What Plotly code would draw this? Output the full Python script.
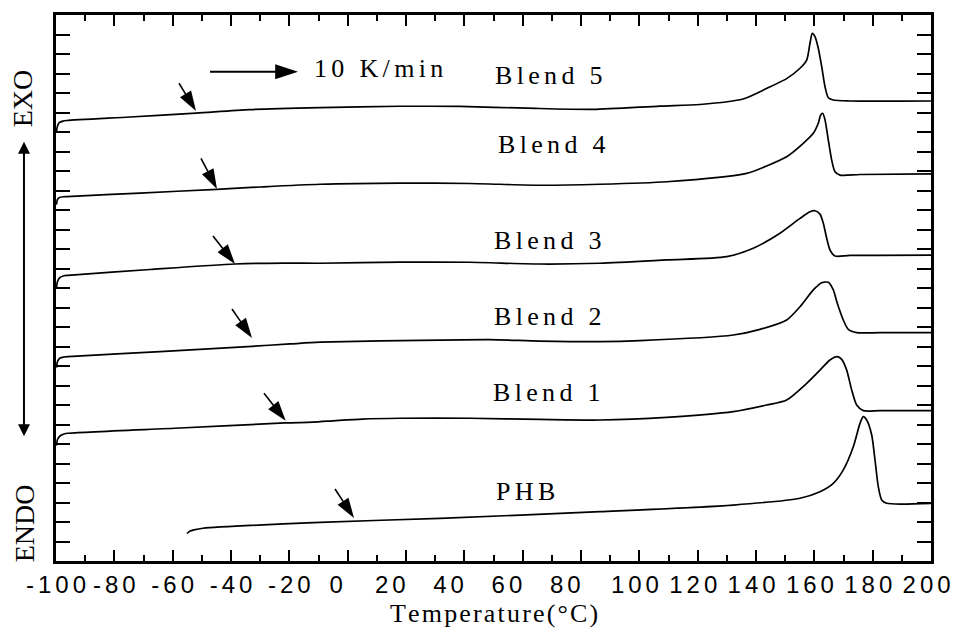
import plotly.graph_objects as go

# ---------------- data ----------------
# Temperature (°C) and heat-flow signal (arbitrary units, one unit = one y tick)
b5_T = [-99.83, -99.49, -98.80, -97.60, -96.23, -74.63, -52.0, -33.49, -9.49, 17.94, 38.51, 61.49, 84.11,
        107.09, 120.80, 135.54, 143.77, 150.63, 155.09, 157.38, 158.51, 159.30, 160.23, 161.36, 162.53,
        163.66, 164.79, 166.50, 172.23, 200.0]
b5_Q = [22.03, 22.31, 22.49, 22.56, 22.59, 22.77, 22.97, 23.15, 23.25, 23.32, 23.31, 23.22, 23.16,
        23.33, 23.41, 23.69, 24.24, 24.75, 25.27, 25.69, 26.55, 27.06, 26.89, 26.29, 25.35,
        24.32, 23.76, 23.64, 23.59, 23.59]

b4_T = [-99.83, -99.49, -98.80, -97.60, -96.23, -71.2, -44.80, -30.06, -9.49, 17.94, 41.94, 65.94, 86.51,
        109.37, 136.80, 143.66, 150.51, 156.21, 159.64, 161.35, 162.18, 162.87, 163.66, 164.79, 165.95,
        167.09, 168.80, 175.66, 200.0]
b4_Q = [18.28, 18.54, 18.64, 18.68, 18.69, 18.87, 19.06, 19.18, 19.32, 19.38, 19.36, 19.27, 19.32,
        19.45, 19.88, 20.26, 20.73, 21.42, 21.93, 22.45, 22.87, 22.96, 22.62, 21.59, 20.56,
        19.96, 19.79, 19.82, 19.85]

b3_T = [-99.83, -99.49, -98.63, -97.26, -95.89, -67.77, -38.63, -22.17, -9.49, 17.94, 41.94, 65.94, 86.51,
        109.37, 129.94, 139.07, 148.23, 155.09, 158.51, 160.23, 161.94, 163.07, 164.24, 165.37,
        167.09, 172.23, 200.0]
b3_Q = [14.03, 14.33, 14.54, 14.63, 14.65, 14.95, 15.23, 15.28, 15.27, 15.33, 15.32, 15.23, 15.27,
        15.44, 15.61, 16.04, 16.81, 17.57, 17.91, 17.96, 17.79, 17.32, 16.55, 15.95,
        15.64, 15.67, 15.69]

b2_T = [-99.83, -99.49, -98.63, -97.26, -95.89, -64.34, -32.80, -19.77, -9.49, 31.66, 48.80, 65.94, 86.51,
        100.23, 132.21, 141.37, 150.53, 155.09, 159.65, 162.53, 164.79, 166.50, 167.87, 169.93,
        171.64, 174.53, 182.51, 200.0]
b2_Q = [9.92, 10.23, 10.41, 10.46, 10.48, 10.74, 11.01, 11.13, 11.22, 11.33, 11.35, 11.28, 11.25,
        11.30, 11.59, 11.88, 12.36, 13.04, 13.90, 14.27, 14.29, 13.90, 13.22, 12.36,
        11.88, 11.71, 11.71, 11.71]

b1_T = [-99.83, -99.49, -98.63, -97.26, -95.89, -57.49, -21.49, -12.0, -4.0, 5.0, 17.94, 41.94, 65.94, 86.51,
        109.37, 132.21, 143.66, 150.51, 157.37, 161.94, 165.37, 167.87, 169.38, 171.09, 172.81,
        174.53, 176.79, 182.51, 200.0]
b1_Q = [5.92, 6.23, 6.41, 6.51, 6.55, 6.82, 7.08, 7.12, 7.20, 7.28, 7.32, 7.32, 7.26, 7.23,
        7.37, 7.66, 8.00, 8.26, 9.11, 9.79, 10.31, 10.48, 10.34, 9.79, 8.77,
        8.00, 7.71, 7.71, 7.71]

phb_T = [-55.09, -54.06, -52.69, -49.60, -9.49, 31.66, 86.51, 132.21, 155.09, 161.94, 166.50, 169.93,
         173.36, 175.66, 176.79, 177.95, 179.67, 180.80, 181.93, 183.10, 184.81, 200.0]
phb_Q = [1.41, 1.54, 1.60, 1.68, 1.98, 2.19, 2.53, 2.87, 3.22, 3.55, 3.98, 4.67,
         5.86, 7.06, 7.40, 7.23, 6.46, 5.18, 3.81, 3.13, 2.96, 2.96]

# curve labels
label_text = ["Blend 5", "Blend 4", "Blend 3", "Blend 2", "Blend 1", "PHB"]
label_T = [69.0, 70.1, 68.7, 68.7, 68.3, 60.8]
label_Q = [24.92, 21.38, 16.46, 12.56, 8.64, 3.59]

# glass-transition arrows: tail and tip (T, Q)
tg_tail_T = [-57.83, -50.29, -46.17, -39.66, -28.69, -4.34]
tg_tail_Q = [24.50, 20.65, 16.67, 12.92, 8.60, 3.69]
tg_tip_T = [-52.0, -44.8, -38.63, -32.8, -21.25, 2.17]
tg_tip_Q = [23.08, 19.08, 15.23, 11.44, 7.19, 2.21]

# heating-rate arrow
rate_T = [-47.2, -17.03]
rate_Q = [25.09, 25.09]
rate_text = "10 K/min"
rate_text_T = 10.7
rate_text_Q = 25.28

x_ticks = list(range(-100, 201, 20))
x_title = "Temperature(°C)"


def spaced(s, gap="\u2006"):
    return gap.join(list(s))


SERIF = "Liberation Serif, Times New Roman, serif"
SANS = "Liberation Sans, Arial, sans-serif"

fig = go.Figure()

for T, Q in [(b5_T, b5_Q), (b4_T, b4_Q), (b3_T, b3_Q), (b2_T, b2_Q), (b1_T, b1_Q), (phb_T, phb_Q)]:
    fig.add_trace(go.Scatter(x=T, y=Q, mode="lines",
                             line=dict(color="black", width=1.7, shape="spline", smoothing=0.7),
                             showlegend=False, hoverinfo="skip"))

for i in range(len(tg_tip_T)):
    fig.add_trace(go.Scatter(x=[tg_tail_T[i], tg_tip_T[i]], y=[tg_tail_Q[i], tg_tip_Q[i]],
                             mode="lines+markers",
                             line=dict(color="#000000", width=1.6),
                             marker=dict(symbol="arrow", size=[0, 21], angleref="previous", color="#000000",
                                         opacity=1, line=dict(width=0, color="#000000")),
                             opacity=1, showlegend=False, hoverinfo="skip"))

fig.add_trace(go.Scatter(x=rate_T, y=rate_Q, mode="lines+markers",
                         line=dict(color="#000000", width=2.2),
                         marker=dict(symbol="arrow", size=[0, 24], angleref="previous", color="#000000",
                                     opacity=1, line=dict(width=0, color="#000000")),
                         showlegend=False, hoverinfo="skip"))

for t, xv, yv in zip(label_text, label_T, label_Q):
    fig.add_annotation(x=xv, y=yv, text=spaced(t), showarrow=False,
                       font=dict(family=SERIF, size=26, color="black"))

fig.add_annotation(x=rate_text_T, y=rate_text_Q, text=spaced(rate_text), showarrow=False,
                   xanchor="center", font=dict(family=SERIF, size=26, color="black"))

# EXO / ENDO and the double arrow at the left
fig.add_annotation(xref="paper", yref="paper", x=-0.038, y=0.847, text="EXO", textangle=-90,
                   xanchor="center", yanchor="middle",
                   showarrow=False, font=dict(family=SERIF, size=28, color="black"))
fig.add_annotation(xref="paper", yref="paper", x=-0.036, y=0.068, text="ENDO", textangle=-90,
                   xanchor="center", yanchor="middle",
                   showarrow=False, font=dict(family=SERIF, size=28, color="black"))
fig.add_annotation(xref="paper", yref="paper", x=-0.0366, y=0.768, ax=0, ay=296, text="",
                   showarrow=True, arrowside="end+start", arrowhead=2, startarrowhead=2,
                   arrowsize=1.2, arrowwidth=2, arrowcolor="black")

# x-axis title
fig.add_annotation(xref="paper", yref="paper", x=0.5, y=-0.097, text=spaced(x_title, "\u200a"),
                   showarrow=False, xanchor="center", yanchor="middle",
                   font=dict(family=SERIF, size=26, color="black"))


def tick_label(v):
    s = spaced(str(v))
    if v == 0:
        s += "\u2007\u2009\u2009"
    elif 0 < v < 100:
        s += "\u2007\u2007\u2009"
    elif v >= 100:
        s += "\u2009\u2006"
    return s


fig.update_xaxes(range=[-100, 200], tickvals=x_ticks, ticktext=[tick_label(v) for v in x_ticks],
                 tickangle=0, automargin=False, ticklabeloverflow="allow",
                 ticks="inside", ticklen=11, tickwidth=2, tickcolor="black",
                 minor=dict(dtick=10, tick0=-100, ticks="inside", ticklen=6, tickwidth=2, tickcolor="black"),
                 showline=True, linewidth=2.5, linecolor="black", mirror="ticks",
                 showgrid=False, zeroline=False,
                 tickfont=dict(family=SANS, size=24, color="black"))
fig.update_yaxes(range=[0, 28], tickvals=list(range(0, 29)), showticklabels=False, automargin=False,
                 ticks="inside", ticklen=14, tickwidth=2, tickcolor="black",
                 showline=True, linewidth=2.5, linecolor="black", mirror="ticks",
                 showgrid=False, zeroline=False)

fig.update_layout(width=958, height=633, margin=dict(l=56, r=27, t=15, b=72),
                  plot_bgcolor="white", paper_bgcolor="white")

fig.write_html("out.html")
